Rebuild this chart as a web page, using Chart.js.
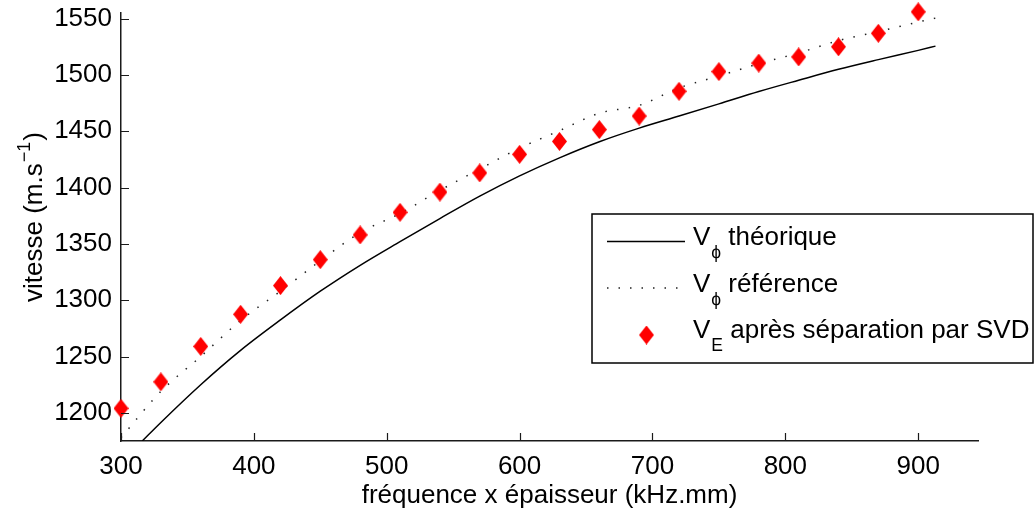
<!DOCTYPE html>
<html><head><meta charset="utf-8">
<script src="https://cdn.jsdelivr.net/npm/chart.js@4.4.1/dist/chart.umd.min.js"></script>
<style>html,body{margin:0;padding:0;background:#fff;}#wrap{width:1035px;height:512px;position:relative;}</style>
</head><body><div id="wrap"><canvas id="c" width="1035" height="512"></canvas></div>
<script>
// ---- data ----
const xTicks = [300, 400, 500, 600, 700, 800, 900];
const yTicks = [1200, 1250, 1300, 1350, 1400, 1450, 1500, 1550];

const theoX = [316, 330, 360, 390, 420, 450, 480, 510, 540, 570, 600, 630, 660, 690, 720, 750, 780, 810, 840, 870, 900, 913];
const theoY = [1175, 1191.5, 1225, 1255.5, 1282.5, 1308, 1331, 1352, 1372.5, 1392.4, 1410.4, 1426.4, 1440.7, 1452.8, 1463.5, 1474.3, 1485.3, 1495.3, 1505, 1513.6, 1521.8, 1525.6];

const refX = [300, 330, 360, 390, 420, 450, 480, 510, 540, 570, 600, 630, 660, 690, 720, 750, 780, 810, 840, 870, 900, 913];
const refY = [1178, 1219, 1250, 1282, 1308, 1335, 1360, 1377, 1397.5, 1416.5, 1435, 1450.5, 1466, 1473, 1488.5, 1499, 1510, 1519.5, 1530.5, 1538.5, 1547, 1550.5];

const svdX = [300, 330, 360, 390, 420, 450, 480, 510, 540, 570, 600, 630, 660, 690, 720, 750, 780, 810, 840, 870, 900];
const svdY = [1204, 1227.5, 1259, 1287.5, 1313, 1336, 1358, 1378, 1396, 1413, 1429.5, 1441, 1451.5, 1463.5, 1485.5, 1503, 1510.5, 1516, 1525, 1537, 1556];

const legendEntries = [
  {main: 'V', sub: '\u03D5', text: 'théorique'},
  {main: 'V', sub: '\u03D5', text: 'référence'},
  {main: 'V', sub: 'E', text: 'après séparation par SVD'}
];
const xTitle = 'fréquence x épaisseur (kHz.mm)';
const yTitleParts = ['vitesse (m.s', '\u22121', ')'];

// ---- styles ----
const FONT = "'Liberation Sans', Arial, Helvetica, sans-serif";
const AXIS = '#1a1a1a';

function makeDiamond(w, h) {
  const c = document.createElement('canvas');
  c.width = w; c.height = h;
  const g = c.getContext('2d');
  g.fillStyle = '#ff0000';
  g.beginPath();
  g.moveTo(w / 2, 0); g.lineTo(w, h / 2); g.lineTo(w / 2, h); g.lineTo(0, h / 2);
  g.closePath(); g.fill();
  return c;
}
const diamond = makeDiamond(15, 19);

const pts = (xs, ys) => xs.map((x, i) => ({x: x, y: ys[i]}));

const extrasPlugin = {
  id: 'extras',
  afterDraw(chart) {
    const ctx = chart.ctx;
    const xs = chart.scales.x, ys = chart.scales.y;
    const area = chart.chartArea;
    // inward tick marks
    ctx.save();
    ctx.strokeStyle = AXIS; ctx.lineWidth = 1.2;
    ctx.beginPath();
    xTicks.forEach(v => { const p = Math.round(xs.getPixelForValue(v)) + 0.5; ctx.moveTo(p, area.bottom); ctx.lineTo(p, area.bottom - 8); });
    yTicks.forEach(v => { const p = Math.round(ys.getPixelForValue(v)) + 0.5; ctx.moveTo(area.left, p); ctx.lineTo(area.left + 8, p); });
    ctx.stroke();
    ctx.restore();

    // y title with superscript
    ctx.save();
    ctx.fillStyle = '#000';
    ctx.textBaseline = 'alphabetic';
    ctx.translate(42, 217);
    ctx.rotate(-Math.PI / 2);
    ctx.font = '26px ' + FONT; const w1 = ctx.measureText(yTitleParts[0]).width;
    ctx.font = '18px ' + FONT; const w2 = ctx.measureText(yTitleParts[1]).width;
    ctx.font = '26px ' + FONT; const w3 = ctx.measureText(yTitleParts[2]).width;
    let x0 = -(w1 + w2 + w3 + 2) / 2;
    ctx.font = '26px ' + FONT; ctx.fillText(yTitleParts[0], x0, 0); x0 += w1 + 1;
    ctx.font = '18px ' + FONT; ctx.fillText(yTitleParts[1], x0, -12); x0 += w2 + 1;
    ctx.font = '26px ' + FONT; ctx.fillText(yTitleParts[2], x0, 0);
    ctx.restore();

    // legend
    const bx = 592, by = 214, bw = 441, bh = 149;
    ctx.save();
    ctx.fillStyle = '#fff';
    ctx.fillRect(bx, by, bw, bh);
    ctx.strokeStyle = '#000'; ctx.lineWidth = 1.5;
    ctx.strokeRect(bx, by, bw, bh);
    const baselines = [245, 291.5, 338];
    legendEntries.forEach((e, i) => {
      const b = baselines[i];
      const ly = b - 3.5;
      if (i === 0) {
        ctx.strokeStyle = '#000'; ctx.lineWidth = 1.5; ctx.setLineDash([]);
        ctx.beginPath(); ctx.moveTo(607, ly); ctx.lineTo(685, ly); ctx.stroke();
      } else if (i === 1) {
        ctx.strokeStyle = '#222'; ctx.lineWidth = 1.5; ctx.setLineDash([1.5, 10]);
        ctx.beginPath(); ctx.moveTo(607, ly); ctx.lineTo(685, ly); ctx.stroke();
        ctx.setLineDash([]);
      } else {
        ctx.drawImage(diamond, 646.5 - diamond.width / 2, b - 3 - diamond.height / 2);
      }
      ctx.fillStyle = '#000'; ctx.textBaseline = 'alphabetic';
      let tx = 693;
      ctx.font = '26px ' + FONT; ctx.fillText(e.main, tx, b); tx += ctx.measureText(e.main).width + 1;
      ctx.font = '17.5px ' + FONT; ctx.fillText(e.sub, tx, b + 13); tx += ctx.measureText(e.sub).width;
      ctx.font = '26px ' + FONT; tx += ctx.measureText(' ').width;
      ctx.fillText(e.text, tx, b);
    });
    ctx.restore();
  }
};

function zeroPad(s) { s.paddingTop = 0; s.paddingBottom = 0; s.paddingLeft = 0; s.paddingRight = 0; }

new Chart(document.getElementById('c'), {
  type: 'scatter',
  data: {
    datasets: [
      {label: 'SVD', data: pts(svdX, svdY), pointStyle: diamond, pointRadius: 9, showLine: false, order: 0, clip: false},
      {label: 'ref', data: pts(refX, refY), showLine: true, borderColor: '#222', borderWidth: 1.5, borderDash: [1.5, 10.3], pointRadius: 0, cubicInterpolationMode: 'monotone', order: 1},
      {label: 'theo', data: pts(theoX, theoY), showLine: true, borderColor: '#000', borderWidth: 1.5, pointRadius: 0, cubicInterpolationMode: 'monotone', order: 2}
    ]
  },
  options: {
    responsive: false,
    animation: false,
    events: [],
    layout: {padding: {left: 0, top: 13, right: 57, bottom: 0}},
    plugins: {legend: {display: false}, tooltip: {enabled: false}},
    scales: {
      x: {
        type: 'linear', min: 300, max: 945,
        afterBuildTicks: s => { s.ticks = xTicks.map(v => ({value: v})); },
        afterFit: s => { s.height = 71; zeroPad(s); },
        grid: {display: true, drawOnChartArea: false, drawTicks: false},
        border: {display: true, color: AXIS, width: 1.5},
        ticks: {color: '#000', padding: 10, font: {family: FONT, size: 26}, maxRotation: 0, autoSkip: false, callback: v => String(v)},
        title: {display: true, text: xTitle, color: '#000', font: {family: FONT, size: 26, lineHeight: 1.2}, padding: {top: 0, bottom: 1}}
      },
      y: {
        type: 'linear', min: 1175, max: 1555,
        afterBuildTicks: s => { s.ticks = yTicks.map(v => ({value: v})); },
        afterFit: s => { s.width = 121; zeroPad(s); },
        grid: {display: true, drawOnChartArea: false, drawTicks: false},
        border: {display: true, color: AXIS, width: 1.5},
        ticks: {color: '#000', padding: 9, font: {family: FONT, size: 26}, autoSkip: false, callback: v => String(v)},
        title: {display: false}
      }
    }
  },
  plugins: [extrasPlugin]
});
</script></body></html>
